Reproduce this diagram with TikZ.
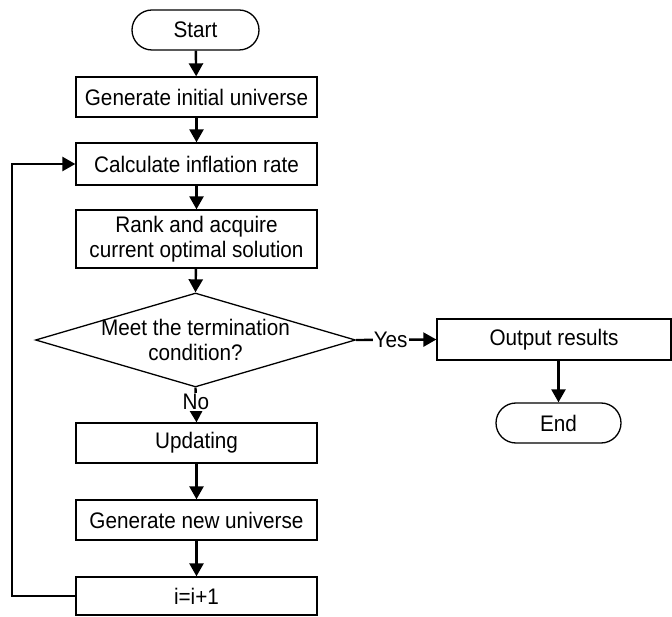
\documentclass[tikz,border=0pt]{standalone}
\usepackage{fontspec}
\setmainfont[FakeStretch=0.92]{Liberation Sans}
\usetikzlibrary{shapes.geometric,shapes.misc,arrows.meta}
\begin{document}
\begin{tikzpicture}[x=1pt,y=-1pt,
  txt/.style={font=\fontsize{22.5}{25}\selectfont},
  box/.style={draw, line width=1.3pt, minimum width=241pt, minimum height=40pt, inner sep=0pt, align=center, txt},
  term/.style={draw, line width=1.3pt, rounded rectangle, minimum width=127pt, minimum height=40pt, inner sep=0pt, txt},
  dec/.style={draw, diamond, aspect=3.4, line width=1.3pt, minimum width=320pt, minimum height=94pt, inner sep=0pt},
  conn/.style={line width=2.4pt, -{Triangle[length=13pt,width=14pt]}},
  lbl/.style={fill=white, inner sep=1pt, txt}]
\useasboundingbox (0,0) rectangle (672,617);

\node[term] (start) at (195.5,30) {Start};
\node[box] (gen) at (196.5,97) {Generate initial universe};
\node[box, minimum height=42pt] (calc) at (196.5,164) {Calculate inflation rate};
\node[box, minimum height=58pt] (rank) at (196.5,239) {Rank and acquire\\current optimal solution};
\node[dec] (dec) at (195.5,340) {};
\node[align=center, txt] (dect) at (dec.center) {Meet the termination\\condition?};
\node[box] (upd) at (196.5,443) {Updating};
\node[box] (newu) at (196.5,520) {Generate new universe};
\node[box, minimum height=38pt] (inc) at (196.5,596) {i=i+1};
\node[box, minimum width=234pt, minimum height=41pt] (out) at (554,339.5) {Output results};
\node[term, minimum width=125pt] (end) at (558.5,423) {End};

\draw[conn] (start) -- (gen);
\draw[conn] (gen) -- (calc);
\draw[conn] (calc) -- (rank);
\draw[conn] (rank) -- (dec.north);
\draw[conn] (dec.south) -- node[lbl, pos=0.42] {No} (upd.north);
\draw[conn] (upd) -- (newu);
\draw[conn] (newu) -- (inc);
\draw[conn] (dec.east) -- node[lbl, pos=0.43] {Yes} (out.west);
\draw[conn] (end.north |- out.south) -- (end.north);
\draw[conn] (inc.west) -- ++(-63.5,0) |- (calc.west);
\end{tikzpicture}
\end{document}
